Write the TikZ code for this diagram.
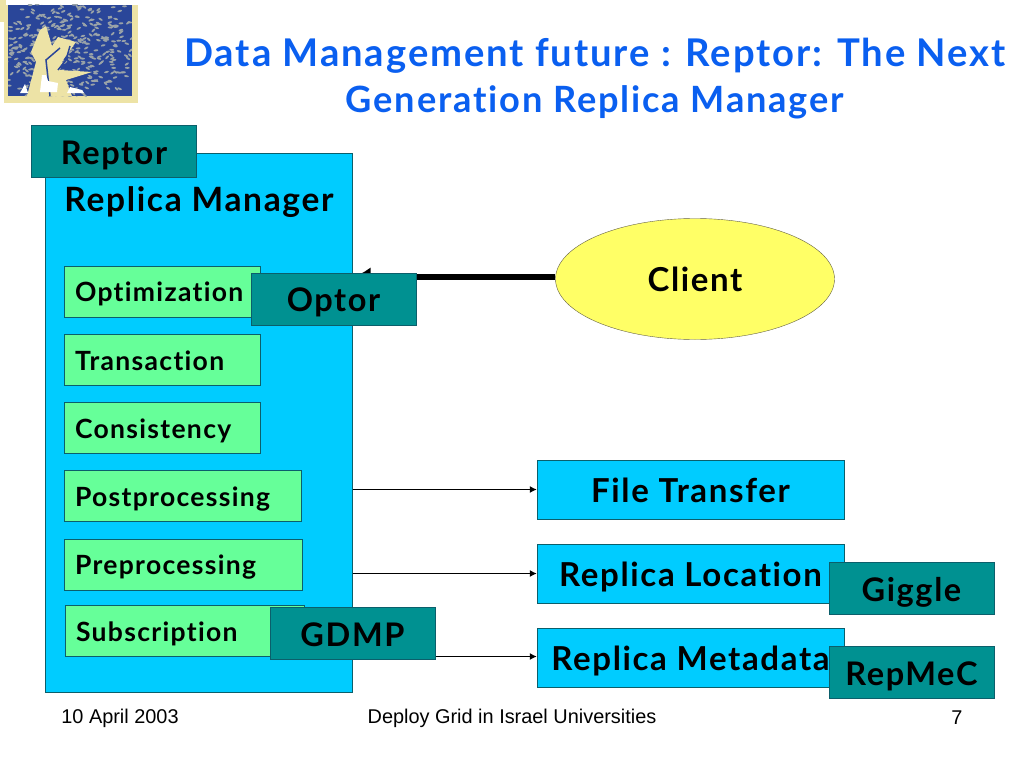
\documentclass[tikz,border=0pt]{standalone}
\usepackage{fontspec}
\setmainfont{Lato}[LetterSpace=5,Ligatures=NoCommon]
\newfontfamily\footfont{Liberation Sans}
\usetikzlibrary{shapes,arrows.meta}
\definecolor{titleblue}{HTML}{0A5FF0}
\definecolor{mgrblue}{HTML}{00CCFF}
\definecolor{boxgreen}{HTML}{66FF99}
\definecolor{tealbox}{HTML}{009191}
\definecolor{edgeteal}{HTML}{0B5F6B}
\definecolor{clientyellow}{HTML}{FFFF66}
\definecolor{logotan}{HTML}{EDE3A6}
\definecolor{logoblue}{HTML}{2A4699}
\definecolor{logocell}{HTML}{9AA3A8}

\begin{document}
\begin{tikzpicture}[x=1pt,y=-1pt]
\tikzstyle{every node}=[font=\bfseries]
\tikzstyle{mgrbox}=[rectangle,draw=edgeteal,fill=mgrblue]
\tikzstyle{modbox}=[rectangle,draw=edgeteal,fill=boxgreen,inner xsep=11pt,inner ysep=0pt,align=left,text height=21.5pt,text depth=1pt,font=\bfseries\fontsize{26.5}{30}\selectfont]
\tikzstyle{svcbox}=[rectangle,draw=edgeteal,fill=mgrblue,minimum width=307pt,minimum height=59pt,text height=26pt,text depth=1pt,font=\bfseries\fontsize{33}{38}\selectfont]
\tikzstyle{tagbox}=[rectangle,draw=edgeteal,fill=tealbox,minimum width=165pt,minimum height=52pt,text height=26pt,text depth=1pt,font=\bfseries\fontsize{32.5}{38}\selectfont]
\tikzstyle{foot}=[font=\footfont\fontsize{19.9}{24}\selectfont]
\tikzstyle{titleline}=[text=titleblue,font=\bfseries\fontsize{38.2}{44}\selectfont]
\tikzstyle{thinarrow}=[-{Latex[length=7pt,width=7pt]},line width=1.2pt]
\useasboundingbox (0,0) rectangle (1024,768);
\fill[white] (0,0) rectangle (1024,768);
% logo
\fill[logotan] (0,0) rectangle (6,22);
\fill[logotan] (4,5) rectangle (138,103);
\fill[logoblue] (8,5) rectangle (132,96);
\begin{scope}
\clip (8,5) rectangle (132,96);
\pgfmathsetseed{11}
\foreach \i in {1,...,420}
  \fill[logocell,rotate around={45*rand:(70,50)}] (8+124*rnd,5+91*rnd) ellipse (2.4 and 1);
\fill[logotan] (27,96) -- (36,62) -- (31,52) -- (40,30) -- (46,26) -- (52,46) -- (58,37) -- (76,42) -- (63,60) -- (60,70) -- (92,72) -- (66,80) -- (72,96) -- cycle;
\draw[logoblue,line width=1.5pt] (50,96) -- (46,60) -- (60,48);
\draw[logoblue,line width=1.5pt] (58,70) -- (66,60) -- (70,46);
\fill[white] (40,92) -- (42,75) -- (46,75) -- (48,81) -- (58,83) -- (57,92) -- cycle;
\fill[white] (20,93) -- (25,84) -- (28,93) -- cycle;
\fill[white] (67,93) -- (70,87) -- (82,90) -- (84,93) -- cycle;
\end{scope}
% title
\node[titleline] (title1) at (595,56) {Data Management future : Reptor: The Next};
\node[titleline,font=\bfseries\fontsize{36.2}{44}\selectfont] (title2) at (595,102) {Generation Replica Manager};
% manager
\node[mgrbox,minimum width=307pt,minimum height=539pt] (mgr) at (199,422.5) {};
\node[font=\bfseries\fontsize{33.5}{40}\selectfont] (mgrlabel) at (199,202) {Replica Manager};
\node[modbox,text width=174pt,minimum height=51pt] (optim) at (162,291.5) {Optimization};
\node[modbox,text width=174pt,minimum height=51pt] (trans) at (162,360) {Transaction};
\node[modbox,text width=174pt,minimum height=51pt] (consis) at (162,428) {Consistency};
\node[modbox,text width=215pt,minimum height=51pt] (post) at (182.5,496) {Postprocessing};
\node[modbox,text width=216pt,minimum height=51pt] (pre) at (183,564.5) {Preprocessing};
\node[modbox,text width=217pt,minimum height=51pt] (subs) at (184.5,631) {Subscription};
% services
\node[svcbox] (transfer) at (690.5,489.5) {File Transfer};
\node[svcbox] (location) at (690.5,573.5) {Replica Location};
\node[svcbox] (meta) at (690.5,657.5) {Replica Metadata};
\node[ellipse,draw=black!70!yellow,fill=clientyellow,minimum width=279pt,minimum height=121pt,inner sep=0pt,font=\bfseries\fontsize{33}{38}\selectfont] (client) at (695,279) {};
\node[font=\bfseries\fontsize{33}{38}\selectfont] (clientlabel) at (695,279) {Client};
% connectors
\coordinate (mgrin) at ([yshift=2pt]mgr.east |- client.west);
\draw[-{Latex[length=18pt,width=20pt]},line width=6pt] ([yshift=2pt]client.west) -- (mgrin);
\draw[thinarrow] (mgr.east |- transfer.west) -- (transfer.west);
\draw[thinarrow] (mgr.east |- location.west) -- (location.west);
\draw[thinarrow] ([yshift=1pt]mgr.east |- meta.west) -- ([yshift=1pt]meta.west);
% tags
\node[tagbox] (reptor) at (114,151.5) {Reptor};
\node[tagbox] (optor) at (333.5,299) {Optor};
\node[tagbox] (gdmp) at (352.5,633.5) {GDMP};
\node[tagbox] (giggle) at (911.5,588.5) {Giggle};
\node[tagbox] (repmec) at (911.5,672.5) {RepMeC};
% footer
\node[foot] (date) at (120,718) {\mdseries 10 April 2003};
\node[foot] (event) at (512,718) {\mdseries Deploy Grid in Israel Universities};
\node[foot] (page) at (957,718) {\mdseries 7};
\end{tikzpicture}
\end{document}
